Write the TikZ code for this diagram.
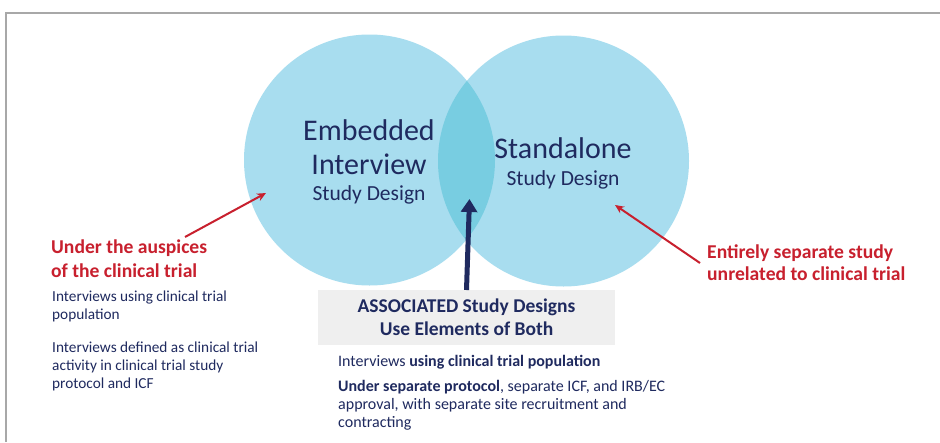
\documentclass[tikz,border=0pt]{standalone}
\usepackage{fontspec}
\setmainfont{Carlito}
\usetikzlibrary{arrows.meta}
\definecolor{circblue}{HTML}{A8DDEF}
\definecolor{lensblue}{HTML}{78CDE1}
\definecolor{navy}{HTML}{1F2A5F}
\definecolor{redc}{HTML}{C8202E}
\definecolor{boxgray}{HTML}{EFEFEF}
\definecolor{framegray}{HTML}{A8A8A8}
\tikzset{
  big/.style={inner sep=0pt, text=navy, font=\fontsize{30}{31}\selectfont, anchor=base},
  mid/.style={inner sep=0pt, text=navy, font=\fontsize{21.5}{22}\selectfont, anchor=base},
  redt/.style={inner sep=0pt, text=redc, font=\fontsize{19.6}{20}\selectfont\bfseries, anchor=base west},
  small/.style={inner sep=0pt, text=navy, font=\fontsize{15.3}{16}\selectfont, anchor=base west},
  smallb/.style={inner sep=0pt, text=navy, font=\fontsize{16}{17}\selectfont, anchor=base west},
  boxt/.style={inner sep=0pt, text=navy, font=\fontsize{19.5}{20}\selectfont\bfseries, anchor=base},
  redarrow/.style={draw=redc, line width=2pt, -{Stealth[length=9pt,width=8pt]}},
  navyarrow/.style={draw=navy, line width=5pt, -{Triangle[length=13pt,width=16pt]}}
}
\begin{document}
\begin{tikzpicture}[x=1pt,y=-1pt]
\useasboundingbox (0,0) rectangle (940,442);
\fill[white] (0,0) rectangle (940,442);
% frame
\draw[framegray, line width=2pt] (6,442) -- (6,13) -- (940,13);
% circles
\fill[circblue] (369.5,160) circle (125.5);
\fill[circblue] (563.5,161) circle (125.5);
\begin{scope}
  \clip (369.5,160) circle (125.5);
  \fill[lensblue] (563.5,161) circle (125.5);
\end{scope}
% circle texts
\node[big] (emb) at (369,140) {Embedded};
\node[big] (int) at (369,174) {Interview};
\node[mid] (esd) at (369,200) {Study Design};
\node[big] (sta) at (563,158) {Standalone};
\node[mid] (ssd) at (563,185) {Study Design};
% left red text
\node[redt] (l1) at (51,253) {Under the auspices};
\node[redt] (l2) at (51,277) {of the clinical trial};
\node[small] (l3) at (52,301) {Interviews using clinical trial};
\node[small] (l4) at (52,319) {population};
\node[small] (l5) at (52,352.5) {Interviews defined as clinical trial};
\node[small] (l6) at (52,370.5) {activity in clinical trial study};
\node[small] (l7) at (52,388.5) {protocol and ICF};
% right red text
\node[redt] (r1) at (707,258) {Entirely separate study};
\node[redt] (r2) at (707,280) {unrelated to clinical trial};
% red arrows
\coordinate (la0) at (185,237);
\coordinate (la1) at (266,193);
\draw[redarrow] (la0) -- (la1);
\coordinate (ra0) at (700,263);
\coordinate (ra1) at (615,205);
\draw[redarrow] (ra0) -- (ra1);
% associated box
\node[fill=boxgray, minimum width=297pt, minimum height=55pt, inner sep=0pt, anchor=north west] (box) at (318,290) {};
\node[boxt] (b1) at (466.5,312.5) {ASSOCIATED Study Designs};
\node[boxt] (b2) at (466.5,335) {Use Elements of Both};
% navy arrow
\coordinate (na1) at (469.5,199);
\draw[navyarrow] (box.north -| 466.5,0) -- (na1);
% bottom text
\node[smallb] (c1) at (338,366.5) {Interviews \textbf{using clinical trial population}};
\node[smallb] (c2) at (338,391.5) {\textbf{Under separate protocol}, separate ICF, and IRB/EC};
\node[smallb] (c3) at (338,409.5) {approval, with separate site recruitment and};
\node[smallb] (c4) at (338,427) {contracting};
\end{tikzpicture}
\end{document}
